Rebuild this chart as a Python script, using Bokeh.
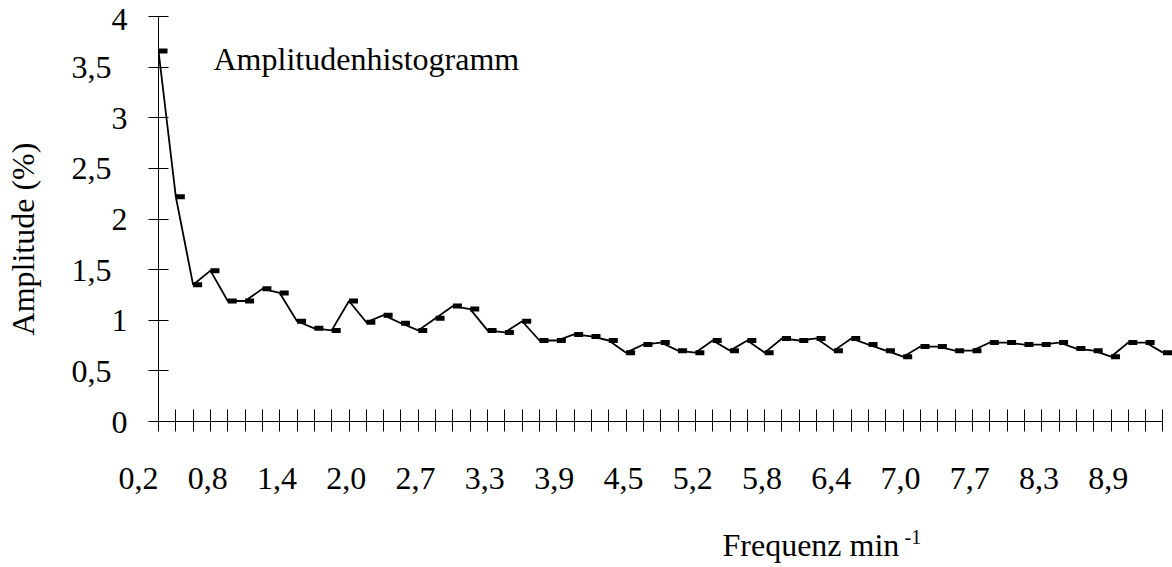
from bokeh.plotting import figure
from bokeh.models import Range1d, FixedTicker, Label, ColumnDataSource
from bokeh.transform import dodge
from bokeh.embed import file_html
from bokeh.resources import INLINE

# ---- data ----
amplitude = [3.66, 2.22, 1.35, 1.49, 1.19, 1.19, 1.31, 1.27, 0.99, 0.92,
             0.90, 1.19, 0.98, 1.05, 0.97, 0.90, 1.02, 1.14, 1.11, 0.90,
             0.88, 0.99, 0.80, 0.80, 0.86, 0.84, 0.80, 0.68, 0.76, 0.78,
             0.70, 0.68, 0.80, 0.70, 0.80, 0.68, 0.82, 0.80, 0.82, 0.70,
             0.82, 0.76, 0.70, 0.64, 0.74, 0.74, 0.70, 0.70, 0.78, 0.78,
             0.76, 0.76, 0.78, 0.72, 0.70, 0.64, 0.78, 0.78, 0.68]
category_index = list(range(len(amplitude)))
label_index = [0, 4, 8, 12, 16, 20, 24, 28, 32, 36, 40, 44, 48, 52, 56]
freq_labels = ["0,2", "0,8", "1,4", "2,0", "2,7", "3,3", "3,9", "4,5",
               "5,2", "5,8", "6,4", "7,0", "7,7", "8,3", "8,9"]
y_ticks = [0, 0.5, 1, 1.5, 2, 2.5, 3, 3.5, 4]
y_tick_labels = ["0", "0,5", "1", "1,5", "2", "2,5", "3", "3,5", "4"]

FONT = "Liberation Serif"
NBSP = "\u00a0"

p = figure(width=1172, height=567, output_backend="svg", toolbar_location=None,
           x_range=Range1d(0, 58.55), y_range=Range1d(0, 4),
           min_border_left=158, min_border_right=0, min_border_top=16,
           min_border_bottom=146)
p.xgrid.visible = False
p.ygrid.visible = False
p.outline_line_color = None
p.background_fill_color = "white"

# x axis: a tick at every category, a label at every 4th
xa = p.xaxis[0]
xa.ticker = FixedTicker(ticks=category_index)
xa.bounds = (category_index[0], category_index[-1])
x_over = {i: "" for i in category_index}
for i, s in zip(label_index, freq_labels):
    x_over[i] = s + NBSP * 5
xa.major_label_overrides = x_over
xa.major_tick_in = 12
xa.major_tick_out = 10
xa.major_label_standoff = 28
xa.major_label_text_font = FONT
xa.major_label_text_font_size = "32px"
xa.major_label_text_color = "black"
xa.minor_tick_line_color = None
xa.axis_line_color = "black"
xa.major_tick_line_color = "black"

# y axis
ya = p.yaxis[0]
ya.ticker = FixedTicker(ticks=y_ticks)
ya.major_label_overrides = {t: (s if "," not in s else s + NBSP * 2)
                            for t, s in zip(y_ticks, y_tick_labels)}
ya.major_tick_in = 10
ya.major_tick_out = 10
ya.major_label_standoff = 21
ya.major_label_text_font = FONT
ya.major_label_text_font_size = "32px"
ya.major_label_text_color = "black"
ya.minor_tick_line_color = None
ya.axis_line_color = "black"
ya.major_tick_line_color = "black"
ya.axis_label = "Amplitude (%)" + NBSP * 5
ya.axis_label_text_font = FONT
ya.axis_label_text_font_size = "32px"
ya.axis_label_text_font_style = "normal"
ya.axis_label_text_color = "black"
ya.axis_label_standoff = 28

src = ColumnDataSource(dict(x=category_index, y=amplitude))
p.line(x="x", y="y", source=src, line_color="black", line_width=1.8)
p.rect(x=dodge("x", 0.26), y="y", width=9, height=5,
       width_units="screen", height_units="screen",
       fill_color="black", line_color=None, source=src)

p.add_layout(Label(x=55, y=362.7, x_units="screen", y_units="screen",
                   text="Amplitudenhistogramm", text_font=FONT, text_font_size="32px",
                   text_color="black", text_baseline="alphabetic"))

p.add_layout(Label(x=564, y=-10, x_units="screen", y_units="screen",
                   text="Frequenz min", text_font=FONT, text_font_size="32px",
                   text_color="black", text_baseline="alphabetic"), "below")
p.add_layout(Label(x=746, y=12, x_units="screen", y_units="screen",
                   text="-1", text_font=FONT, text_font_size="20px",
                   text_color="black", text_baseline="alphabetic"), "below")

open("out.html", "w").write(file_html(p, INLINE))
